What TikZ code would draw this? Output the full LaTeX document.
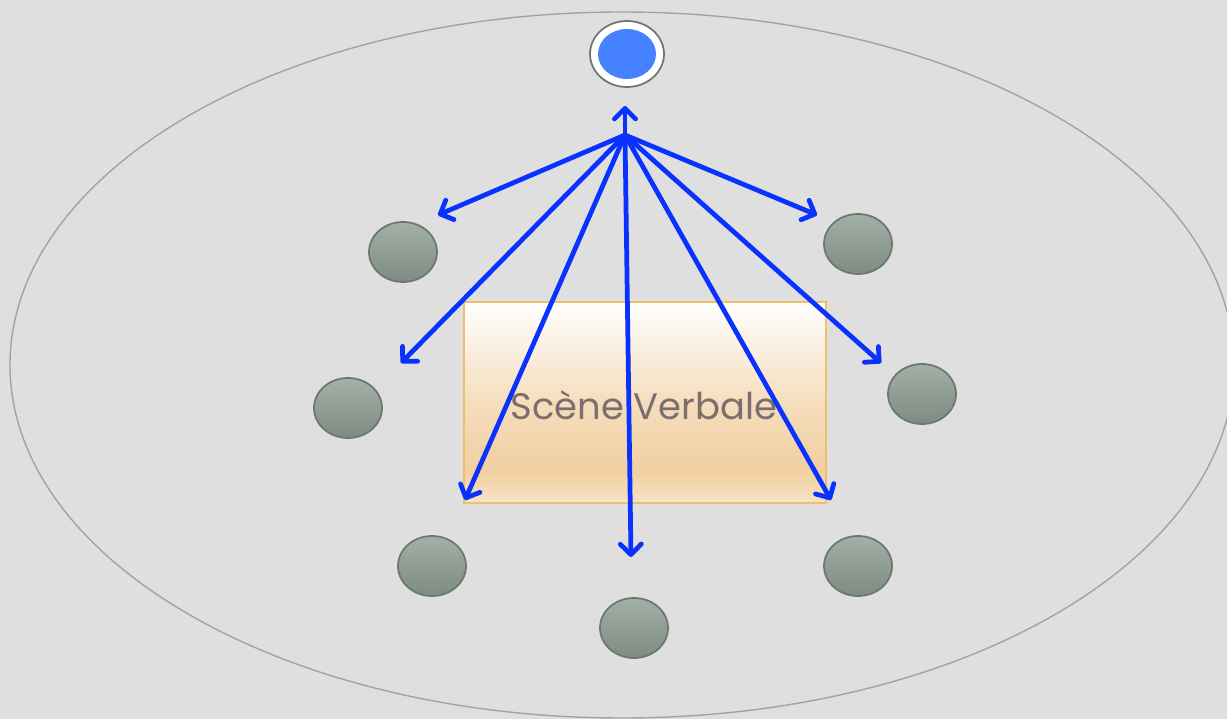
\documentclass[tikz,border=0pt]{standalone}
\usepackage{fontspec}
\setmainfont{Poppins}
\usepackage{tikz}
\usetikzlibrary{arrows.meta,shapes.geometric,positioning,calc}
\definecolor{bgGray}{HTML}{DFDFDF}
\definecolor{ringGray}{HTML}{9BA7A2}
\definecolor{seatTop}{HTML}{A3B0A7}
\definecolor{seatBot}{HTML}{7E8B82}
\definecolor{seatLine}{HTML}{6B7870}
\definecolor{hubBlue}{HTML}{4682FF}
\definecolor{arrBlue}{HTML}{0A32FF}
\definecolor{boxLine}{HTML}{EDC06A}
\definecolor{txtGray}{HTML}{7A6E6E}
\definecolor{sceneMid}{HTML}{F1CFA0}
\definecolor{sceneLow}{HTML}{F6E3C8}
\pgfdeclareverticalshading{scene}{100bp}{color(0bp)=(sceneLow); color(25bp)=(sceneLow); color(33bp)=(sceneMid); color(50bp)=(sceneMid!70!white); color(75bp)=(white); color(100bp)=(white)}
\tikzset{
  seat/.style={ellipse, draw=seatLine, line width=1pt, top color=seatTop, bottom color=seatBot,
    minimum width=1.36cm, minimum height=1.2cm, inner sep=0pt},
  talk/.style={draw=arrBlue, line width=2.7pt, line cap=round,
    -{Straight Barb[length=6pt,width=12pt,round]}}
}
\begin{document}
\begin{tikzpicture}[x=0.02cm,y=-0.02cm]
\fill[bgGray] (0,0) rectangle (1227,719);
\useasboundingbox (0,0) rectangle (1227,719);
% salle
\draw[ringGray, line width=0.8pt] (622,365) ellipse [x radius=612, y radius=353];
% scene
\node[draw=boxLine, line width=1pt, shading=scene, minimum width=7.24cm, minimum height=4.02cm,
  inner sep=0pt] (scene) at (645,402.5) {};
\node[txtGray, font=\fontsize{21}{25}\selectfont] (label) at (644,405) {Scène Verbale};
% locuteur
\node[ellipse, draw=seatLine, fill=white, line width=1pt, minimum width=1.48cm, minimum height=1.32cm] (hub) at (627,54) {};
\node[ellipse, fill=hubBlue, minimum width=1.16cm, minimum height=1.0cm] (hubIn) at (hub.center) {};
% auditeurs
\node[seat] (p1) at (403,252) {};
\node[seat] (p2) at (858,244) {};
\node[seat] (p3) at (348,408) {};
\node[seat] (p4) at (922,394) {};
\node[seat] (p5) at (432,566) {};
\node[seat] (p6) at (858,566) {};
\node[seat] (p7) at (634,628) {};
% fleches
\coordinate (src) at (625,135);
\coordinate (t0) at (625,106);
\coordinate (t1) at (438,215);
\coordinate (t2) at (817,215);
\coordinate (t3) at (401,363);
\coordinate (t4) at (881,363);
\coordinate (t5) at (465,500);
\coordinate (t6) at (831,500);
\coordinate (t7) at (631,557);
\foreach \t in {t0,t1,t2,t3,t4,t5,t6,t7}
  \draw[talk] (src) -- (\t);
\end{tikzpicture}
\end{document}
